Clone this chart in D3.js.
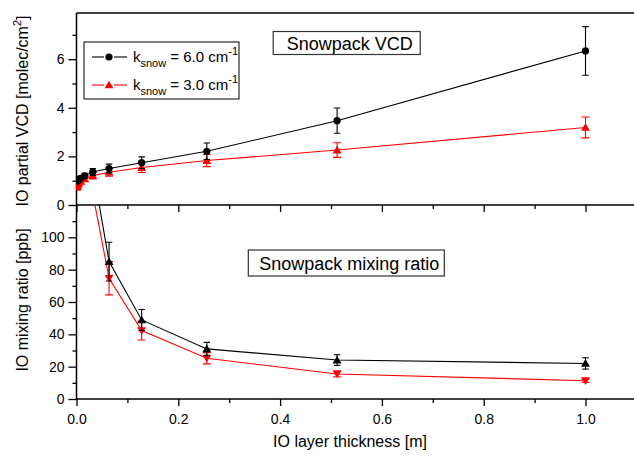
<!DOCTYPE html>
<html>
<head>
<meta charset="utf-8">
<script src="https://cdn.jsdelivr.net/npm/d3@7"></script>
<style>
  html, body { margin: 0; padding: 0; background: #fff; }
  svg { display: block; font-family: "Liberation Sans", Arial, sans-serif; }
</style>
</head>
<body>
<svg id="chart" width="634" height="456"></svg>
<script>
// IO layer thickness [m] for the column (VCD) runs
const thickness = [0.001, 0.002, 0.004, 0.008, 0.016, 0.032, 0.064, 0.128, 0.256, 0.512, 1.0];
// Snowpack partial VCD, k_snow = 6.0 cm^-1
const vcdK6 = [0.98, 1.00, 1.04, 1.10, 1.20, 1.36, 1.50, 1.74, 2.21, 3.47, 6.34];
const vcdK6Err = [0.06, 0.06, 0.07, 0.08, 0.10, 0.14, 0.18, 0.24, 0.34, 0.52, 1.00];
// Snowpack partial VCD, k_snow = 3.0 cm^-1
const vcdK3 = [0.72, 0.80, 0.88, 0.97, 1.08, 1.21, 1.35, 1.54, 1.83, 2.26, 3.19];
const vcdK3Err = [0.08, 0.08, 0.09, 0.10, 0.12, 0.14, 0.16, 0.20, 0.25, 0.30, 0.43];

// Mixing ratio runs
const mixThickness = [0.032, 0.064, 0.128, 0.256, 0.512, 1.0];
const mixK6 = [143, 85, 48.9, 31, 24.1, 22];
const mixK6Err = [15, 12, 6.5, 4, 3.3, 3.5];
const mixK3 = [127, 74.7, 42.3, 25.2, 15.5, 11.3];
const mixK3Err = [6, 10.3, 5.8, 3.5, 1.8, 1.0];

const xTicks = [0, 0.2, 0.4, 0.6, 0.8, 1.0];
const xMinor = [0.1, 0.3, 0.5, 0.7, 0.9, 1.1];
const vcdTicks = [0, 2, 4, 6];
const vcdMinor = [1, 3, 5, 7];
const mixTicks = [0, 20, 40, 60, 80, 100];
const mixMinor = [10, 30, 50, 70, 90, 110];

const svg = d3.select("#chart");
const plotL = 76.5, plotR = 636.4, plotT = 13, plotMid = 205, plotB = 399;

const x = d3.scaleLinear().domain([0, 1.1]).range([plotL, plotR]);
const yTop = d3.scaleLinear().domain([0, 7.9]).range([plotMid, plotT]);
const yBot = d3.scaleLinear().domain([0, 120]).range([plotB, plotMid]);

const AX = "#000";

// clip regions for the two panels
const defs = svg.append("defs");
defs.append("clipPath").attr("id", "clipTop").append("rect")
  .attr("x", plotL).attr("y", plotT).attr("width", plotR - plotL).attr("height", plotMid - plotT);
defs.append("clipPath").attr("id", "clipBot").append("rect")
  .attr("x", plotL).attr("y", plotMid).attr("width", plotR - plotL).attr("height", plotB - plotMid);

function styleAxis(g, size) {
  g.select(".domain").remove();
  g.selectAll(".tick line").attr("stroke", AX).attr("stroke-width", 1.3);
  g.selectAll(".tick text").attr("font-size", size).attr("fill", "#000")
    .attr("font-family", "'Liberation Sans', Arial, sans-serif");
}

// ---- axes: top panel ----
svg.append("g").attr("transform", `translate(${plotL},0)`)
  .call(d3.axisLeft(yTop).tickValues(vcdTicks).tickSize(8).tickPadding(4).tickFormat(d3.format("d")))
  .call(g => styleAxis(g, 14));
svg.append("g").attr("transform", `translate(${plotL},0)`)
  .call(d3.axisLeft(yTop).tickValues(vcdMinor).tickSize(4).tickFormat(""))
  .call(g => styleAxis(g, 14));
svg.append("g").attr("transform", `translate(0,${plotMid})`)
  .call(d3.axisBottom(x).tickValues(xTicks).tickSize(7).tickFormat(""))
  .call(g => styleAxis(g, 14));
svg.append("g").attr("transform", `translate(0,${plotMid})`)
  .call(d3.axisBottom(x).tickValues(xMinor).tickSize(4).tickFormat(""))
  .call(g => styleAxis(g, 14));

// ---- axes: bottom panel ----
svg.append("g").attr("transform", `translate(${plotL},0)`)
  .call(d3.axisLeft(yBot).tickValues(mixTicks).tickSize(8).tickPadding(4).tickFormat(d3.format("d")))
  .call(g => styleAxis(g, 14));
svg.append("g").attr("transform", `translate(${plotL},0)`)
  .call(d3.axisLeft(yBot).tickValues(mixMinor).tickSize(4).tickFormat(""))
  .call(g => styleAxis(g, 14));
svg.append("g").attr("transform", `translate(0,${plotB})`)
  .call(d3.axisBottom(x).tickValues(xTicks).tickSize(7).tickPadding(8).tickFormat(d3.format(".1f")))
  .call(g => styleAxis(g, 14));
svg.append("g").attr("transform", `translate(0,${plotB})`)
  .call(d3.axisBottom(x).tickValues(xMinor).tickSize(4).tickFormat(""))
  .call(g => styleAxis(g, 14));

// frame lines
const frame = svg.append("g").attr("stroke", AX).attr("stroke-width", 1.5).attr("fill", "none");
frame.append("line").attr("x1", plotL).attr("x2", 634).attr("y1", plotT).attr("y2", plotT);
frame.append("line").attr("x1", plotL).attr("x2", 634).attr("y1", plotMid).attr("y2", plotMid);
frame.append("line").attr("x1", plotL).attr("x2", 634).attr("y1", plotB).attr("y2", plotB);
frame.append("line").attr("x1", plotL).attr("x2", plotL).attr("y1", plotT).attr("y2", plotB);

// ---- marker shapes ----
const triUp = d3.symbol().type(d3.symbolTriangle).size(34)();
function marker(g, kind, color) {
  if (kind === "circle") {
    g.append("circle").attr("r", 3.6).attr("fill", color);
  } else if (kind === "up") {
    g.append("path").attr("d", triUp).attr("transform", "translate(0,0.8)").attr("fill", color);
  } else {
    g.append("path").attr("d", triUp).attr("transform", "translate(0,-0.8) rotate(180)").attr("fill", color);
  }
}

function drawSeries(layer, xs, ys, errs, yScale, color, kind, capHalf) {
  const line = d3.line().x((d, i) => x(xs[i])).y(d => yScale(d));
  layer.append("path").datum(ys).attr("d", line)
    .attr("fill", "none").attr("stroke", color).attr("stroke-width", 1.1);
  const pts = layer.selectAll(null).data(ys.map((v, i) => ({ x: xs[i], y: v, e: errs[i] })))
    .enter().append("g");
  pts.append("line")
    .attr("x1", d => x(d.x)).attr("x2", d => x(d.x))
    .attr("y1", d => yScale(d.y - d.e)).attr("y2", d => yScale(d.y + d.e))
    .attr("stroke", color).attr("stroke-width", 1.1);
  [-1, 1].forEach(s => {
    pts.append("line")
      .attr("x1", d => x(d.x) - capHalf).attr("x2", d => x(d.x) + capHalf)
      .attr("y1", d => yScale(d.y + s * d.e)).attr("y2", d => yScale(d.y + s * d.e))
      .attr("stroke", color).attr("stroke-width", 1.1);
  });
  pts.each(function (d) {
    const g = d3.select(this).append("g")
      .attr("transform", `translate(${x(d.x)},${yScale(d.y)})`);
    marker(g, kind, color);
  });
}

const topLayer = svg.append("g").attr("clip-path", "url(#clipTop)");
drawSeries(topLayer, thickness, vcdK3, vcdK3Err, yTop, "#ff0000", "up", 4);
drawSeries(topLayer, thickness, vcdK6, vcdK6Err, yTop, "#000000", "circle", 3.2);

const botLayer = svg.append("g").attr("clip-path", "url(#clipBot)");
drawSeries(botLayer, mixThickness, mixK3, mixK3Err, yBot, "#ff0000", "down", 4);
drawSeries(botLayer, mixThickness, mixK6, mixK6Err, yBot, "#000000", "up", 3.2);

// ---- axis titles ----
svg.append("text").attr("x", 350).attr("y", 447).attr("text-anchor", "middle")
  .attr("font-size", 16).text("IO layer thickness [m]");

const t1 = svg.append("text").attr("transform", "translate(28,111) rotate(-90)")
  .attr("text-anchor", "middle").attr("font-size", 16);
t1.append("tspan").text("IO partial VCD [molec/cm");
t1.append("tspan").attr("font-size", 11).attr("dy", -7).text("2");
t1.append("tspan").attr("dy", 7).text("]");

svg.append("text").attr("transform", "translate(28,300) rotate(-90)")
  .attr("text-anchor", "middle").attr("font-size", 16).text("IO mixing ratio [ppb]");

// ---- panel labels ----
function boxLabel(cx, cy, w, h, label) {
  svg.append("rect").attr("x", cx - w / 2).attr("y", cy - h / 2).attr("width", w).attr("height", h)
    .attr("fill", "#fff").attr("stroke", "#333").attr("stroke-width", 1.2);
  svg.append("text").attr("x", cx + 3).attr("y", cy + 6.5).attr("text-anchor", "middle")
    .attr("font-size", 18).text(label);
}
boxLabel(346.7, 43, 147, 23, "Snowpack VCD");
boxLabel(346.3, 263, 196, 26, "Snowpack mixing ratio");

// ---- legend ----
const legend = svg.append("g");
legend.append("rect").attr("x", 84).attr("y", 42).attr("width", 155).attr("height", 57)
  .attr("fill", "#fff").attr("stroke", "#000").attr("stroke-width", 1);
const legendRows = [
  { y: 57, color: "#000000", kind: "circle", value: "6.0" },
  { y: 85, color: "#ff0000", kind: "up", value: "3.0" }
];
legendRows.forEach(r => {
  const g = legend.append("g");
  g.append("line").attr("x1", 92).attr("x2", 104).attr("y1", r.y).attr("y2", r.y)
    .attr("stroke", r.color).attr("stroke-width", 1.1);
  g.append("line").attr("x1", 114).attr("x2", 127).attr("y1", r.y).attr("y2", r.y)
    .attr("stroke", r.color).attr("stroke-width", 1.1);
  marker(g.append("g").attr("transform", `translate(109,${r.y})`), r.kind, r.color);
  const t = g.append("text").attr("x", 133).attr("y", r.y + 5).attr("font-size", 15);
  t.append("tspan").text("k");
  t.append("tspan").attr("font-size", 11).attr("dy", 5).text("snow");
  t.append("tspan").attr("dy", -5).text(` = ${r.value} cm`);
  t.append("tspan").attr("font-size", 11).attr("dy", -7).text("-1");
});
</script>
</body>
</html>
